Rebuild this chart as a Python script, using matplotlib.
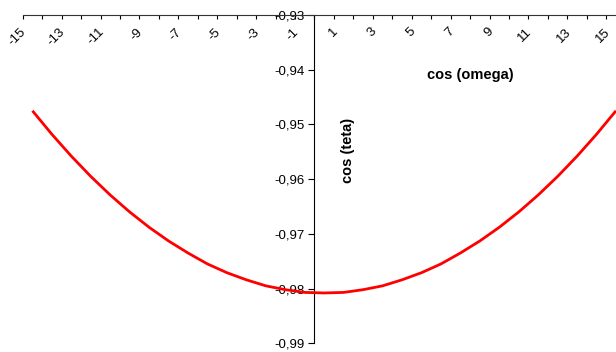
import matplotlib
matplotlib.use("Agg")
import matplotlib.pyplot as plt
import matplotlib.transforms as mtransforms
import numpy as np

plt.rcParams["font.family"] = ["Liberation Sans", "DejaVu Sans"]

# omega categories and cos(teta)
omega = list(range(-15, 16))
cos_teta = [-0.9475, -0.9518, -0.9558, -0.9595, -0.9629, -0.9660, -0.9688,
            -0.9713, -0.9735, -0.9755, -0.9771, -0.9784, -0.9795, -0.9802,
            -0.9807, -0.9808, -0.9807, -0.9802, -0.9795, -0.9784, -0.9771,
            -0.9755, -0.9735, -0.9713, -0.9688, -0.9660, -0.9629, -0.9595,
            -0.9558, -0.9518, -0.9475]
y_ticks = [-0.93, -0.94, -0.95, -0.96, -0.97, -0.98, -0.99]
x_labels = list(range(-15, 16, 2))

W, H = 616, 352
fig = plt.figure(figsize=(W / 100, H / 100), dpi=100)
# axes spans 31 category slots; right end falls slightly outside the image
left, right = 22.7 / W, 625.7 / W
top, bottom = 1 - 15 / H, 1 - 343.3 / H
ax = fig.add_axes([left, bottom, right - left, top - bottom])

ax.plot(omega, cos_teta, color="#ff0000", lw=2, solid_capstyle="butt", zorder=3)

ax.set_xlim(-15.5, 15.5)
ax.set_ylim(-0.99, -0.93)

# axes lines: category axis on top, value axis crossing between -1 and 0
for s in ("bottom", "right"):
    ax.spines[s].set_visible(False)
ax.spines["left"].set_position(("data", -0.5))
ax.spines["left"].set_linewidth(0.8)
ax.spines["top"].set_linewidth(0.8)
ax.spines["top"].set_color("#333333")

ax.set_yticks(y_ticks)
ax.set_yticklabels([f"{v:.2f}".replace(".", ",") for v in y_ticks])
ax.tick_params(axis="y", direction="out", length=4, width=0.8, pad=3,
               labelsize=9.5)

ax.xaxis.set_ticks_position("top")
ax.set_xticks(np.arange(-15.5, 16, 1.0))
ax.set_xticklabels([])
ax.tick_params(axis="x", direction="in", length=3, width=0.8)

# rotated category labels just below the top axis line
off = mtransforms.ScaledTranslation(-0.08, -0.15, fig.dpi_scale_trans)
for v in x_labels:
    ax.text(v, -0.93, str(v), rotation=45, rotation_mode="anchor",
            ha="right", va="center", fontsize=9.5,
            transform=ax.transData + off)

fig.text(470 / W, 1 - 75 / H, "cos (omega)", ha="center", va="center",
         fontsize=10.5, fontweight="bold")
fig.text(348 / W, 1 - 150 / H, "cos (teta)", ha="center", va="center",
         rotation=90, fontsize=10.5, fontweight="bold")

fig.savefig("out.png", dpi=100)
